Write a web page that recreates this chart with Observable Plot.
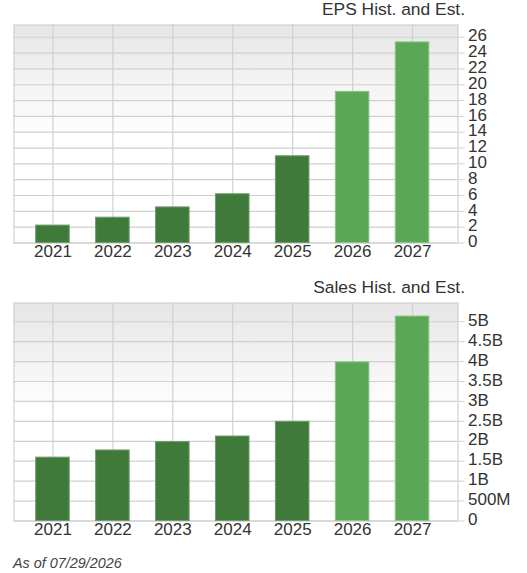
<!DOCTYPE html>
<html>
<head>
<meta charset="utf-8">
<script src="https://cdn.jsdelivr.net/npm/d3@7"></script>
<script src="https://cdn.jsdelivr.net/npm/@observablehq/plot@0.6"></script>
<style>
html,body{margin:0;padding:0;background:#fff;overflow:hidden}
body{width:527px;height:573px;font-family:"Liberation Sans",Arial,sans-serif;color:#333}
.t{height:24px;line-height:19px;width:465px;text-align:right;font-size:17.4px}
svg{display:block}
.gap{height:13.5px}
.c{font-size:14.4px;font-style:italic;color:#444;padding:13px 0 0 13px;line-height:16px}
</style>
</head>
<body>
<div id="root"></div>
<script>
const years = [2021, 2022, 2023, 2024, 2025, 2026, 2027];
const eps = [2.2, 3.2, 4.5, 6.16, 10.96, 19.1, 25.35];
const sales = [1.59e9, 1.77e9, 1.98e9, 2.12e9, 2.49e9, 3.98e9, 5.13e9];
const estimated = [false, false, false, false, false, true, true];
const epsTicks = [0, 2, 4, 6, 8, 10, 12, 14, 16, 18, 20, 22, 24, 26];
const salesTicks = [0, 5e8, 1e9, 1.5e9, 2e9, 2.5e9, 3e9, 3.5e9, 4e9, 4.5e9, 5e9];
const salesTickLabels = ["0", "500M", "1B", "1.5B", "2B", "2.5B", "3B", "3.5B", "4B", "4.5B", "5B"];
const epsTitle = "EPS Hist. and Est.";
const salesTitle = "Sales Hist. and Est.";
const caption = "As of 07/29/2026";
const GRID = "#d0d0d0";

function chart(values, ticks, fmt, yMax, id) {
  const rows = years.map((y, i) => ({year: y, value: values[i], est: estimated[i]}));
  const defs = () => {
    const d = d3.create("svg:defs");
    const g = d.append("linearGradient").attr("id", id).attr("x1", 0).attr("x2", 0).attr("y1", 0).attr("y2", 1);
    g.append("stop").attr("offset", "0%").attr("stop-color", "#e6e6e6");
    g.append("stop").attr("offset", "50%").attr("stop-color", "#ffffff");
    return d.node();
  };
  return Plot.plot({
    width: 527,
    height: 240,
    marginLeft: 13.5,
    marginRight: 69.5,
    marginTop: 0.5,
    marginBottom: 21.5,
    style: {fontFamily: "'Liberation Sans',Arial,sans-serif", fontSize: "17px", background: "transparent"},
    x: {type: "band", domain: years, range: [22.5, 442], round: false, paddingInner: 0.44, paddingOuter: 0.22, align: 0.5, label: null},
    y: {domain: [0, yMax], label: null},
    marks: [
      defs,
      Plot.frame({fill: `url(#${id})`, stroke: GRID, strokeWidth: 1.2}),
      Plot.gridX({stroke: GRID, strokeOpacity: 1, strokeWidth: 1.2}),
      Plot.gridY(ticks, {stroke: GRID, strokeOpacity: 1, strokeWidth: 1.2}),
      Plot.barY(rows, {
        x: "year", y: "value",
        fill: d => d.est ? "#5aa856" : "#3f7a3a",
        stroke: d => d.est ? "#8cc489" : "#6f9c6b",
        strokeWidth: 1
      }),
      Plot.axisX({tickSize: 0, tickPadding: 2, fill: "#333", tickFormat: d => String(d), label: null, fontSize: 17}),
      Plot.axisY(ticks, {anchor: "right", tickSize: 6, stroke: GRID, fill: "none", label: null}),
      Plot.axisY(ticks, {anchor: "right", tickSize: 6, tickPadding: 4, dy: -1.3, stroke: "none", fill: "#333", tickFormat: fmt, label: null, fontSize: 17})
    ]
  });
}

const root = document.getElementById("root");
function title(text, cls) {
  const e = document.createElement("div");
  e.className = cls;
  e.textContent = text;
  root.appendChild(e);
}
title(epsTitle, "t");
root.appendChild(chart(eps, epsTicks, d => String(d), 27.55, "g1"));
const gap = document.createElement("div"); gap.className = "gap"; root.appendChild(gap);
title(salesTitle, "t");
root.appendChild(chart(sales, salesTicks, d => salesTickLabels[salesTicks.indexOf(d)], 5.47e9, "g2"));
title(caption, "c");
</script>
</body>
</html>
